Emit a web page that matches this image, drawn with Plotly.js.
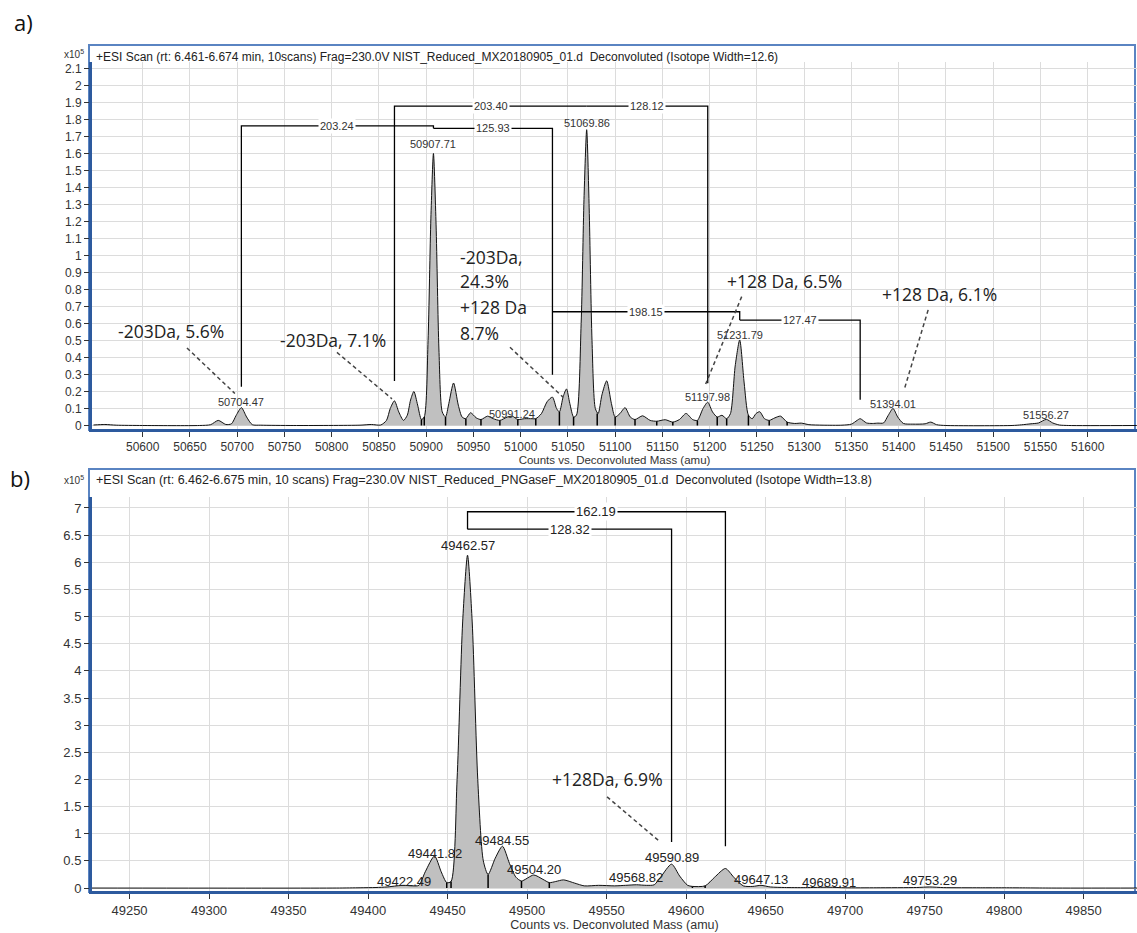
<!DOCTYPE html>
<html>
<head>
<meta charset="utf-8">
<script src="https://cdn.plot.ly/plotly-3.0.1.min.js"></script>
<style>html,body{margin:0;padding:0;background:#fff;}#chart{width:1137px;height:933px;}</style>
</head>
<body>
<div id="chart"></div>
<script>
// ---------------- DATA ----------------
// Panel a) spectrum profile: deconvoluted mass (amu) vs counts (x10^5)
const topMass = [50548,50560,50572,50600,50660,50672,50680,50688,50694,50699,50704.47,50710,50716,50725,50760,50830,50842,50852,50858,50862,50866.46,50871,50876,50880,50883.5,50887,50891,50895,50898,50902,50905,50907.71,50910.5,50913.5,50917,50920.5,50924,50929,50934,50938,50942,50947,50953,50958,50965,50971,50978,50986,50991.24,50997,51004,51012,51016,51022,51028,51033.64,51038,51041,51045,51048.5,51052,51056,51059,51064,51067,51069.86,51072.5,51075.5,51079,51082,51086,51091,51096,51100,51105,51110.5,51116,51121,51129,51137,51144,51153,51161,51168,51175,51182,51187,51193,51197.98,51203,51208,51213,51218,51222,51227,51231.79,51236.5,51241,51245,51249,51253,51258,51263,51269,51275,51282,51290,51297,51305,51320,51340,51350,51356,51359.26,51366,51372,51378,51384,51389,51394.01,51399,51405,51415,51428,51434,51440,51450,51520,51530,51540,51548,51556.27,51563,51570,51580,51652];
const topCounts = [0.003,0.006,0.002,0,0,0.005,0.03,0.006,0.01,0.06,0.105,0.05,0.005,0.002,0,0.002,0.006,0.003,0.03,0.1,0.145,0.08,0.03,0.06,0.15,0.2,0.12,0.035,0.05,0.5,1.22,1.6,1.18,0.45,0.08,0.05,0.13,0.25,0.12,0.05,0.04,0.075,0.045,0.035,0.055,0.04,0.03,0.05,0.055,0.035,0.04,0.04,0.04,0.07,0.14,0.167,0.1,0.08,0.17,0.215,0.13,0.05,0.06,0.6,1.33,1.74,1.28,0.5,0.1,0.07,0.18,0.263,0.13,0.05,0.07,0.105,0.05,0.035,0.057,0.03,0.025,0.034,0.02,0.035,0.071,0.035,0.03,0.1,0.137,0.08,0.05,0.06,0.04,0.07,0.35,0.503,0.25,0.06,0.04,0.07,0.081,0.04,0.03,0.045,0.055,0.02,0.012,0.014,0.005,0.002,0.002,0.008,0.03,0.04,0.015,0.012,0.014,0.015,0.06,0.1,0.05,0.012,0.008,0.01,0.02,0.005,0,0,0.004,0.01,0.015,0.036,0.015,0.003,0,0];
// integration marks (valleys) in panel a)
const topValleyMass = [50895,50898,50920.5,50942,50958,50978,50997,51016,51041,51056,51081,51100,51121,51144,51161,51187,51208,51218,51241,51263,51282];
const topValleyCounts = [0.035,0.05,0.05,0.04,0.035,0.03,0.035,0.04,0.08,0.05,0.07,0.05,0.035,0.025,0.02,0.03,0.05,0.04,0.06,0.03,0.02];
// labelled peaks in panel a)
const topPeakMass = [50704.47,50907.71,50991.24,51069.86,51197.98,51231.79,51394.01,51556.27];
const topPeakLabelY = [0.141,1.653,0.068,1.777,0.168,0.532,0.126,0.06];
// mass-difference brackets in panel a)
const topBracketLabel = ['203.24','125.93','203.40','128.12','198.15','127.47'];
const topBracketLeft = [50704.47,50907.71,50866.46,51069.86,51033.64,51231.79];
const topBracketRight = [50907.71,51033.64,51069.86,51197.98,51231.79,51359.26];
const topBracketLevel = [1.762,1.748,1.879,1.879,0.669,0.62];
const topBracketLeftEnd = [0.228,1.748,0.262,1.879,0.669,0.62];
const topBracketRightEnd = [1.748,0.298,1.879,0.248,0.62,0.152];
// large notes in panel a)
const topNoteText = ['-203Da, 5.6%','-203Da, 7.1%','-203Da,','24.3%','+128 Da','8.7%','+128 Da, 6.5%','+128 Da, 6.1%'];
const topNoteMass = [50630.4,50801.4,50933.7,50933.7,50933.7,50933.7,51278.8,51443.7];
const topNoteY = [0.555,0.504,0.99,0.848,0.70,0.545,0.852,0.775];
const topNoteAlign = ['center','center','left','left','left','left','center','center'];
const topPointerFromMass = [50646.9,50805.6,50988.7,51233.9,51431.2];
const topPointerFromY = [0.456,0.43,0.46,0.758,0.68];
const topPointerToMass = [50697.6,50863.8,51044.8,51195.8,51405.8];
const topPointerToY = [0.188,0.157,0.167,0.244,0.21];
const topXTicks = [50600,50650,50700,50750,50800,50850,50900,50950,51000,51050,51100,51150,51200,51250,51300,51350,51400,51450,51500,51550,51600];
const topXTickText = ['50600','50650','50700','50750','50800','50850','50900','50950','51000','51050','51100','51150','51200','51250','51300','51350','51400','51450','51500','51550','51600'];
const topYTicks = [0,0.1,0.2,0.3,0.4,0.5,0.6,0.7,0.8,0.9,1,1.1,1.2,1.3,1.4,1.5,1.6,1.7,1.8,1.9,2,2.1];
const topYTickText = ['0','0.1','0.2','0.3','0.4','0.5','0.6','0.7','0.8','0.9','1','1.1','1.2','1.3','1.4','1.5','1.6','1.7','1.8','1.9','2','2.1'];
const topTitle = '+ESI Scan (rt: 6.461-6.674 min, 10scans) Frag=230.0V NIST_Reduced_MX20180905_01.d  Deconvoluted (Isotope Width=12.6)';

// Panel b) spectrum profile
const botMass = [49226,49380,49395,49405,49412,49418,49422.49,49428,49432,49436,49441.82,49446,49449.5,49452.2,49456,49459.5,49462.57,49465.5,49469,49472.5,49475.5,49480,49484.55,49489,49493,49496.5,49504.2,49510,49514,49518,49523,49530,49536,49545,49555,49562,49568.82,49575,49580,49584,49590.89,49596,49601,49604,49612,49618,49624.76,49630,49636,49642,49647.13,49653,49662,49675,49689.91,49700,49720,49745,49753.29,49762,49785,49800,49815,49830,49884];
const botCounts = [0,0,0.005,0.01,0.02,0.04,0.05,0.04,0.05,0.3,0.59,0.3,0.1,0.12,2.0,4.9,6.13,4.9,2.0,0.5,0.25,0.55,0.77,0.45,0.2,0.13,0.24,0.16,0.1,0.12,0.15,0.09,0.04,0.05,0.04,0.05,0.06,0.05,0.06,0.2,0.44,0.22,0.05,0.03,0.04,0.2,0.36,0.2,0.04,0.03,0.05,0.02,0.01,0.008,0.015,0.005,0.005,0.01,0.02,0.008,0.005,0.005,0.003,0,0];
const botValleyMass = [49449.5,49452.2,49475.5,49496.5,49514,49604,49612];
const botValleyCounts = [0.1,0.12,0.25,0.13,0.1,0.03,0.04];
const botPeakMass = [49422.49,49441.82,49462.57,49484.55,49504.20,49568.82,49590.89,49647.13,49689.91,49753.29];
const botPeakLabelY = [0.129,0.645,6.30,0.884,0.35,0.20,0.571,0.166,0.11,0.147];
const botBracketLabel = ['162.19','128.32'];
const botBracketLeft = [49462.57,49462.57];
const botBracketRight = [49624.76,49590.89];
const botBracketLevel = [6.93,6.61];
const botBracketLeftEnd = [6.61,6.61];
const botBracketRightEnd = [0.77,0.85];
const botNoteText = ['+128Da, 6.9%'];
const botNoteMass = [49550.3];
const botNoteY = [2.0];
const botPointerFromMass = [49550.3];
const botPointerFromY = [1.68];
const botPointerToMass = [49583.6];
const botPointerToY = [0.853];
const botXTicks = [49250,49300,49350,49400,49450,49500,49550,49600,49650,49700,49750,49800,49850];
const botXTickText = ['49250','49300','49350','49400','49450','49500','49550','49600','49650','49700','49750','49800','49850'];
const botYTicks = [0,0.5,1,1.5,2,2.5,3,3.5,4,4.5,5,5.5,6,6.5,7];
const botYTickText = ['0','0.5','1','1.5','2','2.5','3','3.5','4','4.5','5','5.5','6','6.5','7'];
const botTitle = '+ESI Scan (rt: 6.462-6.675 min, 10 scans) Frag=230.0V NIST_Reduced_PNGaseF_MX20180905_01.d  Deconvoluted (Isotope Width=13.8)';
const axisTitle = 'Counts vs. Deconvoluted Mass (amu)';

// ---------------- BUILD ----------------
const W = 1137, H = 933;
const fx = p => p / W;
const fy = p => 1 - p / H;
const FONT = 'Liberation Sans, Arial, sans-serif';
const NOTEFONT = 'Open Sans, Noto Sans, sans-serif';
const FILL = '#c0c0c0';

function spectrum(x, y, xa, ya) {
  return {x: x, y: y, xaxis: xa, yaxis: ya, type: 'scatter', mode: 'lines',
    fill: 'tozeroy', fillcolor: FILL,
    line: {color: '#111', width: 1, shape: 'spline', smoothing: 0.7}, hoverinfo: 'skip'};
}
function valleys(m, c, xa, ya) {
  const x = [], y = [];
  m.forEach((v, i) => { x.push(v, v, null); y.push(0, c[i], null); });
  return {x, y, xaxis: xa, yaxis: ya, type: 'scatter', mode: 'lines',
    line: {color: '#000', width: 1.5}, hoverinfo: 'skip'};
}
function brackets(L, R, lev, le, re, xa, ya) {
  const x = [], y = [];
  L.forEach((l, i) => {
    x.push(l, l, R[i], R[i], null);
    y.push(le[i], lev[i], lev[i], re[i], null);
  });
  return {x, y, xaxis: xa, yaxis: ya, type: 'scatter', mode: 'lines',
    line: {color: '#000', width: 1.3}, hoverinfo: 'skip'};
}
function pointers(fm, fyv, tm, tyv, xa, ya) {
  const x = [], y = [];
  fm.forEach((m, i) => { x.push(m, tm[i], null); y.push(fyv[i], tyv[i], null); });
  return {x, y, xaxis: xa, yaxis: ya, type: 'scatter', mode: 'lines',
    line: {color: '#444', width: 1.5, dash: '4px,3px'}, hoverinfo: 'skip'};
}

const data = [
  spectrum(topMass, topCounts, 'x', 'y'),
  valleys(topValleyMass, topValleyCounts, 'x', 'y'),
  brackets(topBracketLeft, topBracketRight, topBracketLevel, topBracketLeftEnd, topBracketRightEnd, 'x', 'y'),
  pointers(topPointerFromMass, topPointerFromY, topPointerToMass, topPointerToY, 'x', 'y'),
  spectrum(botMass, botCounts, 'x2', 'y2'),
  valleys(botValleyMass, botValleyCounts, 'x2', 'y2'),
  brackets(botBracketLeft, botBracketRight, botBracketLevel, botBracketLeftEnd, botBracketRightEnd, 'x2', 'y2'),
  pointers(botPointerFromMass, botPointerFromY, botPointerToMass, botPointerToY, 'x2', 'y2')
];

const ann = [];
// peak labels
topPeakMass.forEach((m, i) => ann.push({xref: 'x', yref: 'y', x: m, y: topPeakLabelY[i], text: m.toFixed(2),
  showarrow: false, font: {family: FONT, size: 11, color: '#333'}, xanchor: 'center', yanchor: 'middle'}));
botPeakMass.forEach((m, i) => ann.push({xref: 'x2', yref: 'y2', x: m, y: botPeakLabelY[i], text: m.toFixed(2),
  showarrow: false, font: {family: FONT, size: 13, color: '#222'}, xanchor: 'center', yanchor: 'middle'}));
// bracket labels at bracket midpoints
topBracketLabel.forEach((t, i) => ann.push({xref: 'x', yref: 'y', x: (topBracketLeft[i] + topBracketRight[i]) / 2,
  y: topBracketLevel[i], text: t, showarrow: false, bgcolor: '#fff', borderpad: 1,
  font: {family: FONT, size: 11, color: '#333'}, xanchor: 'center', yanchor: 'middle'}));
botBracketLabel.forEach((t, i) => ann.push({xref: 'x2', yref: 'y2', x: (botBracketLeft[i] + botBracketRight[i]) / 2,
  y: botBracketLevel[i], text: t, showarrow: false, bgcolor: '#fff', borderpad: 1,
  font: {family: FONT, size: 13, color: '#222'}, xanchor: 'center', yanchor: 'middle'}));
// notes
topNoteText.forEach((t, i) => ann.push({xref: 'x', yref: 'y', x: topNoteMass[i], y: topNoteY[i], text: t,
  showarrow: false, font: {family: NOTEFONT, size: 17.5, color: '#222'}, xanchor: topNoteAlign[i], yanchor: 'middle'}));
botNoteText.forEach((t, i) => ann.push({xref: 'x2', yref: 'y2', x: botNoteMass[i], y: botNoteY[i], text: t,
  showarrow: false, font: {family: NOTEFONT, size: 17.5, color: '#222'}, xanchor: 'center', yanchor: 'middle'}));
// panel letters, headers, exponents
ann.push({xref: 'paper', yref: 'paper', x: fx(12), y: fy(22), text: 'a)', showarrow: false, xanchor: 'left', yanchor: 'middle',
  font: {family: NOTEFONT, size: 22, color: '#111'}});
ann.push({xref: 'paper', yref: 'paper', x: fx(8), y: fy(478), text: 'b)', showarrow: false, xanchor: 'left', yanchor: 'middle',
  font: {family: NOTEFONT, size: 22, color: '#111'}});
ann.push({xref: 'paper', yref: 'paper', x: fx(86), y: fy(54), text: 'x10<sup>5</sup>', showarrow: false, xanchor: 'right', yanchor: 'middle',
  font: {family: FONT, size: 10, color: '#333'}});
ann.push({xref: 'paper', yref: 'paper', x: fx(86), y: fy(480), text: 'x10<sup>5</sup>', showarrow: false, xanchor: 'right', yanchor: 'middle',
  font: {family: FONT, size: 10, color: '#333'}});
ann.push({xref: 'paper', yref: 'paper', x: fx(94), y: fy(57), text: topTitle, showarrow: false, xanchor: 'left', yanchor: 'middle',
  font: {family: FONT, size: 12, color: '#222'}});
ann.push({xref: 'paper', yref: 'paper', x: fx(94), y: fy(480), text: botTitle, showarrow: false, xanchor: 'left', yanchor: 'middle',
  font: {family: FONT, size: 12.5, color: '#222'}});

const shapes = [
  {type: 'rect', xref: 'paper', yref: 'paper', x0: fx(89), x1: fx(1135), y0: fy(430), y1: fy(45),
    line: {color: '#5a84c2', width: 2}, layer: 'below'},
  {type: 'rect', xref: 'paper', yref: 'paper', x0: fx(89), x1: fx(1135), y0: fy(892), y1: fy(469),
    line: {color: '#5a84c2', width: 2}, layer: 'below'}
];

function xax(range, tv, tt, size, dom, anchor) {
  return {domain: dom, range: range, anchor: anchor, tickvals: tv, ticktext: tt, ticks: 'outside', ticklen: 5,
    tickcolor: '#333', tickfont: {family: FONT, size: size, color: '#333'}, showgrid: true, gridcolor: '#dcdcdc',
    gridwidth: 1, zeroline: false, showline: true, linecolor: '#2d5a9e', linewidth: 3, automargin: false,
    title: {text: axisTitle, font: {family: FONT, size: size - 0.5, color: '#333'}, standoff: 2}};
}
function yax(range, tv, tt, size, dom, anchor) {
  return {domain: dom, range: range, anchor: anchor, tickvals: tv, ticktext: tt, ticks: 'outside', ticklen: 5,
    tickcolor: '#333', tickfont: {family: FONT, size: size, color: '#333'}, showgrid: true, gridcolor: '#dcdcdc',
    gridwidth: 1, zeroline: false, showline: true, linecolor: '#2d5a9e', linewidth: 3, automargin: false};
}

const layout = {
  width: W, height: H, margin: {l: 0, r: 0, t: 0, b: 0}, paper_bgcolor: '#fff', plot_bgcolor: '#fff',
  showlegend: false, hovermode: false,
  xaxis: xax([50546.4, 51652.2], topXTicks, topXTickText, 12, [fx(92), 1], 'y'),
  yaxis: yax([-0.02, 2.14], topYTicks, topYTickText, 12, [fy(428.9), fy(61.7)], 'x'),
  xaxis2: xax([49226.4, 49883.6], botXTicks, botXTickText, 13, [fx(92), 1], 'y2'),
  yaxis2: yax([-0.06, 7.2], botYTicks, botYTickText, 13, [fy(891.3), fy(497.1)], 'x2'),
  annotations: ann, shapes: shapes
};

Plotly.newPlot('chart', data, layout, {staticPlot: true, displayModeBar: false});
</script>
</body>
</html>
